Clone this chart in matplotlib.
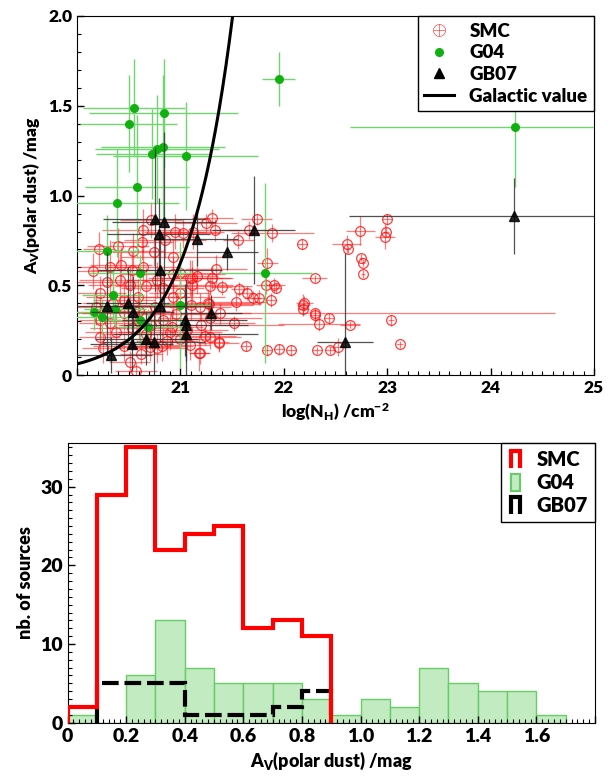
import numpy as np
import matplotlib
matplotlib.use("Agg")
import matplotlib.pyplot as plt
import matplotlib.patches as mpatches
from matplotlib.lines import Line2D
from matplotlib.legend_handler import HandlerPatch
from matplotlib.ticker import MultipleLocator, FuncFormatter

BOLD = 'heavy'
plt.rcParams['font.family'] = 'Lato'
plt.rcParams['font.weight'] = BOLD
plt.rcParams['axes.labelweight'] = BOLD
plt.rcParams['mathtext.fontset'] = 'custom'
plt.rcParams['mathtext.rm'] = 'Lato:heavy'
plt.rcParams['mathtext.it'] = 'Lato:heavy'
plt.rcParams['mathtext.bf'] = 'Lato:heavy'

# --- SMC fits: log(NH), Av, errors ---
smc_lognh = [23.00, 22.74, 22.99, 22.98, 22.61, 22.62, 22.75, 22.77, 22.77, 22.18,
             22.30, 22.20, 22.19, 22.30, 22.44, 22.34, 22.64, 23.04, 22.32, 22.45,
             22.52, 23.12, 22.30,
             21.31, 21.25, 21.33, 21.56, 21.74, 21.89, 21.84, 21.34, 21.31, 21.29,
             21.40, 21.57, 21.64, 21.70, 21.76, 21.91, 21.92, 21.88, 21.54, 21.28,
             21.10, 22.19, 21.52, 21.29, 21.20, 21.29, 21.37, 21.19, 21.63, 21.84,
             21.95, 22.07, 21.09,
             20.21, 20.54, 20.64, 20.72, 21.03, 21.12, 20.93, 20.63, 20.74, 20.32,
             20.43, 20.53, 20.64, 20.93, 21.00, 21.11, 21.11, 21.16, 20.29, 20.42,
             20.51, 20.59, 20.67, 20.77, 20.83, 20.93, 21.00, 20.22, 20.35, 20.45,
             20.22, 20.32, 20.22, 20.38, 20.53, 20.60, 20.67, 20.72, 20.83, 20.90,
             20.92, 20.77, 20.71, 20.82, 20.51, 20.57, 20.87, 21.06, 21.09, 21.18,
             21.37, 21.19, 21.27, 21.38, 21.66, 21.83,
             20.40, 20.85, 20.95, 20.45, 20.60, 20.75, 20.96, 21.00, 20.25, 20.45,
             20.62, 21.24, 20.15, 20.18]
smc_av = [0.867, 0.804, 0.800, 0.770, 0.730, 0.700, 0.655, 0.626, 0.563, 0.730,
          0.540, 0.400, 0.366, 0.334, 0.316, 0.284, 0.282, 0.306, 0.139, 0.139,
          0.158, 0.173, 0.344,
          0.873, 0.845, 0.808, 0.752, 0.867, 0.789, 0.626, 0.590, 0.540, 0.496,
          0.489, 0.479, 0.459, 0.431, 0.432, 0.501, 0.485, 0.418, 0.405, 0.394,
          0.390, 0.390, 0.288, 0.316, 0.282, 0.213, 0.180, 0.124, 0.162, 0.139,
          0.145, 0.139, 0.540,
          0.700, 0.690, 0.808, 0.864, 0.789, 0.800, 0.660, 0.743, 0.687, 0.600,
          0.613, 0.585, 0.603, 0.566, 0.570, 0.539, 0.500, 0.550, 0.520, 0.530,
          0.500, 0.436, 0.496, 0.530, 0.483, 0.436, 0.460, 0.455, 0.400, 0.344,
          0.306, 0.288, 0.213, 0.241, 0.260, 0.300, 0.232, 0.280, 0.306, 0.241,
          0.270, 0.149, 0.158, 0.160, 0.074, 0.024, 0.190, 0.250, 0.167, 0.126,
          0.186, 0.380, 0.400, 0.344, 0.808, 0.500,
          0.720, 0.750, 0.800, 0.420, 0.360, 0.380, 0.340, 0.200, 0.150, 0.160,
          0.120, 0.220, 0.580, 0.380]
smc_xerr = [0.05, 0.14, 0.03, 0.10, 0.14, 0.02, 0.02, 0.02, 0.02, 0.05,
            0.12, 0.08, 0.05, 0.05, 0.05, 0.40, 0.10, 0.03, 0.05, 0.05,
            0.08, 0.03, 2.32,
            0.20, 0.30, 0.25, 0.15, 0.15, 0.40, 0.10, 0.30, 0.20, 0.40,
            0.10, 0.08, 0.08, 0.08, 0.08, 0.10, 0.05, 0.05, 0.30, 0.50,
            0.60, 0.06, 0.20, 0.50, 0.80, 0.30, 0.20, 0.10, 0.05, 0.05,
            0.05, 0.05, 0.40,
            0.15, 0.30, 0.40, 0.30, 0.35, 0.30, 0.50, 0.30, 0.40, 0.30,
            0.30, 0.40, 0.35, 0.50, 0.30, 0.30, 0.40, 0.20, 0.30, 0.40,
            0.40, 0.50, 0.30, 0.30, 0.40, 0.50, 0.30, 0.25, 0.30, 0.40,
            0.20, 0.30, 0.20, 0.30, 0.40, 0.30, 0.40, 0.30, 0.60, 0.50,
            0.30, 0.30, 0.30, 0.30, 0.20, 0.20, 0.30, 0.40, 0.20, 0.10,
            0.10, 0.30, 0.40, 0.30, 0.20, 0.10,
            0.30, 0.40, 0.30, 0.30, 0.30, 0.40, 0.40, 0.30, 0.20, 0.30,
            0.20, 0.30, 0.20, 0.20]
smc_yerr = [0.03, 0.08, 0.03, 0.07, 0.05, 0.02, 0.02, 0.02, 0.02, 0.03,
            0.02, 0.04, 0.03, 0.03, 0.03, 0.04, 0.02, 0.03, 0.02, 0.02,
            0.05, 0.02, 0.03,
            0.05, 0.05, 0.06, 0.05, 0.03, 0.05, 0.08, 0.08, 0.06, 0.05,
            0.04, 0.04, 0.04, 0.04, 0.04, 0.04, 0.03, 0.04, 0.05, 0.06,
            0.08, 0.06, 0.04, 0.06, 0.07, 0.07, 0.05, 0.06, 0.03, 0.03,
            0.03, 0.03, 0.10,
            0.10, 0.10, 0.12, 0.10, 0.08, 0.10, 0.10, 0.10, 0.08, 0.15,
            0.10, 0.10, 0.10, 0.10, 0.08, 0.10, 0.10, 0.10, 0.10, 0.15,
            0.10, 0.10, 0.10, 0.10, 0.10, 0.10, 0.10, 0.10, 0.10, 0.10,
            0.10, 0.10, 0.08, 0.10, 0.10, 0.10, 0.10, 0.10, 0.10, 0.10,
            0.10, 0.08, 0.08, 0.08, 0.06, 0.05, 0.08, 0.10, 0.08, 0.10,
            0.05, 0.08, 0.08, 0.06, 0.05, 0.05,
            0.10, 0.10, 0.10, 0.10, 0.10, 0.10, 0.10, 0.08, 0.08, 0.08,
            0.06, 0.05, 0.10, 0.10]

# --- G04 fits ---
g04_lognh = [20.58, 20.39, 20.29, 20.16, 20.24, 20.35, 20.37, 20.61, 20.69, 21.00,
             21.82, 20.61, 20.50, 20.55, 20.84, 20.73, 20.77, 20.83, 21.05, 21.95,
             24.24]
g04_av = [1.05, 0.96, 0.69, 0.35, 0.325, 0.445, 0.37, 0.31, 0.27, 0.39,
          0.57, 0.57, 1.40, 1.49, 1.46, 1.23, 1.26, 1.27, 1.22, 1.65,
          1.38]
g04_xerr = [0.50, 0.60, 0.30, 0.30, 0.30, 0.30, 0.30, 0.40, 0.30, 0.30,
            0.45, 0.50, 0.47, 0.49, 0.72, 0.55, 0.60, 0.60, 0.70, 0.16,
            1.60]
g04_yerr = [0.40, 0.30, 0.20, 0.10, 0.10, 0.15, 0.10, 0.15, 0.10, 0.35,
            0.50, 0.10, 0.27, 0.27, 0.30, 0.25, 0.30, 0.40, 0.30, 0.15,
            0.33]

# --- GB07 fits ---
gb07_lognh = [20.75, 20.84, 20.79, 21.16, 21.45, 21.71, 20.80, 20.29, 20.49, 20.54,
              20.80, 21.30, 21.04, 21.05, 21.05, 20.67, 20.74, 20.53, 20.33, 22.59,
              24.23]
gb07_av = [0.867, 0.854, 0.785, 0.760, 0.687, 0.810, 0.585, 0.384, 0.403, 0.353,
           0.384, 0.349, 0.306, 0.279, 0.232, 0.204, 0.186, 0.176, 0.111, 0.182,
           0.886]
gb07_xerr = [0.50, 0.50, 0.50, 0.40, 0.30, 0.40, 0.60, 0.30, 0.40, 0.40,
             0.50, 0.30, 0.60, 0.60, 0.70, 0.50, 0.50, 0.40, 0.40, 0.27,
             1.60]
gb07_yerr = [0.40, 0.50, 0.20, 0.15, 0.10, 0.30, 0.20, 0.30, 0.20, 0.20,
             0.20, 0.10, 0.20, 0.20, 0.30, 0.15, 0.20, 0.15, 0.10, 0.50,
             0.21]

# NH / Av for the Galactic dust-to-gas ratio
galactic_ratio = 1.6e21

# --- histograms of Av(polar dust), bins of 0.1 mag ---
smc_edges = [0.0, 0.1, 0.2, 0.3, 0.4, 0.5, 0.6, 0.7, 0.8, 0.9]
smc_counts = [2, 29, 35, 22, 24, 25, 12, 13, 11]
g04_edges = [0.0, 0.1, 0.2, 0.3, 0.4, 0.5, 0.6, 0.7, 0.8, 0.9,
             1.0, 1.1, 1.2, 1.3, 1.4, 1.5, 1.6, 1.7]
g04_counts = [1, 0, 6, 13, 7, 5, 5, 5, 3, 1, 3, 2, 7, 5, 4, 4, 1]
gb07_edges = [0.1, 0.2, 0.3, 0.4, 0.5, 0.6, 0.7, 0.8, 0.9]
gb07_counts = [5, 5, 5, 1, 1, 1, 2, 4]

red = '#ff1010'
green = '#11b011'


def fmt_one_decimal(v, pos):
    return '0' if abs(v) < 1e-9 else '%.1f' % v


def step_handle(legend, orig_handle, xdescent, ydescent, width, height, fontsize):
    # narrow open-bottom box, like a histogram step
    x0 = -xdescent + width * 0.12
    x1 = -xdescent + width * 0.62
    y0 = -ydescent - height * 0.15
    y1 = -ydescent + height * 1.05
    return mpatches.Polygon([[x0, y0], [x0, y1], [x1, y1], [x1, y0]],
                            closed=orig_handle.get_fill())


def bold_ticks(ax):
    for lbl in ax.get_xticklabels() + ax.get_yticklabels():
        lbl.set_fontweight(BOLD)


def centers_of(edges):
    e = np.asarray(edges)
    return (e[:-1] + e[1:]) / 2


fig = plt.figure(figsize=(6.14, 7.80), dpi=100)
ax1 = fig.add_axes([0.1254, 0.519, 0.842, 0.4605])
ax2 = fig.add_axes([0.110, 0.0735, 0.859, 0.359])

# top: Av vs NH
ax1.errorbar(smc_lognh, smc_av, xerr=smc_xerr, yerr=smc_yerr, fmt='none',
             ecolor=red, elinewidth=0.9, alpha=0.55, zorder=2)
ax1.plot(smc_lognh, smc_av, 'o', ms=7, mfc='none', mec=red, mew=0.9,
         alpha=0.8, zorder=2)
ax1.errorbar(g04_lognh, g04_av, xerr=g04_xerr, yerr=g04_yerr, fmt='o', ms=5.5,
             color=green, ecolor='#6fd66f', elinewidth=1.0, zorder=3)
ax1.errorbar(gb07_lognh, gb07_av, xerr=gb07_xerr, yerr=gb07_yerr, fmt='^', ms=6.5,
             color='black', ecolor='#333333', elinewidth=0.9, alpha=0.85, zorder=4)
nh_grid = np.linspace(20.0, 21.6, 200)
ax1.plot(nh_grid, 10 ** nh_grid / galactic_ratio, color='black', lw=2.2, zorder=5)

ax1.set_xlim(20.0, 25.0)
ax1.set_ylim(0, 2.0)
ax1.xaxis.set_major_locator(MultipleLocator(1))
ax1.xaxis.set_minor_locator(MultipleLocator(0.1))
ax1.yaxis.set_major_locator(MultipleLocator(0.5))
ax1.yaxis.set_minor_locator(MultipleLocator(0.1))
ax1.xaxis.set_major_formatter(FuncFormatter(lambda v, p: '%d' % round(v) if v > 20.5 else ''))
ax1.yaxis.set_major_formatter(FuncFormatter(fmt_one_decimal))
ax1.tick_params(which='both', direction='in', labelsize=12.5)
ax1.tick_params(which='major', length=5, width=1)
ax1.tick_params(which='minor', length=3, width=0.8)
ax1.set_xlabel(r'log(N$_\mathrm{H}$) /cm$^{-2}$', fontsize=12.5, fontweight=BOLD)
ax1.set_ylabel(r'A$_\mathrm{V}$(polar dust) /mag', fontsize=12.5, fontweight=BOLD)
bold_ticks(ax1)

top_handles = [
    Line2D([], [], ls='none', marker='$\\oplus$', ms=9, color=red, mew=0),
    Line2D([], [], ls='none', marker='o', ms=5.5, color=green),
    Line2D([], [], ls='none', marker='^', ms=6.5, color='black'),
    Line2D([], [], color='black', lw=2.2),
]
leg1 = ax1.legend(top_handles, ['SMC', 'G04', 'GB07', 'Galactic value'],
                  loc='upper right', prop={'family': 'Lato', 'size': 13.5, 'weight': BOLD},
                  fancybox=False, edgecolor='black', framealpha=1,
                  borderaxespad=0, handlelength=1.6, labelspacing=0.25,
                  borderpad=0.35)
leg1.get_frame().set_linewidth(1.0)

# bottom: histograms
ax2.hist(centers_of(g04_edges), bins=g04_edges, weights=g04_counts, histtype='bar',
         rwidth=1.0, facecolor='#c2ebc2', edgecolor='#66cc66', linewidth=1.0,
         zorder=1)
ax2.hist(centers_of(smc_edges), bins=smc_edges, weights=smc_counts, histtype='step',
         color='#ff0000', linewidth=3, zorder=3)
ax2.hist(centers_of(gb07_edges), bins=gb07_edges, weights=gb07_counts, histtype='step',
         color='black', linewidth=3, linestyle=(0, (4, 1.4)), zorder=2)

ax2.set_xlim(0, 1.8)
ax2.set_ylim(0, 35.6)
ax2.xaxis.set_major_locator(MultipleLocator(0.2))
ax2.xaxis.set_minor_locator(MultipleLocator(0.02))
ax2.yaxis.set_major_locator(MultipleLocator(10))
ax2.yaxis.set_minor_locator(MultipleLocator(1))
ax2.xaxis.set_major_formatter(FuncFormatter(lambda v, p: fmt_one_decimal(v, p) if v < 1.7 else ''))
ax2.yaxis.set_major_formatter(FuncFormatter(lambda v, p: '%d' % round(v)))
ax2.tick_params(which='both', direction='in', labelsize=14)
ax2.tick_params(which='major', length=5, width=1)
ax2.tick_params(which='minor', length=3, width=0.8)
ax2.set_xlabel(r'A$_\mathrm{V}$(polar dust) /mag', fontsize=13, fontweight=BOLD)
ax2.set_ylabel('nb. of sources', fontsize=13, fontweight=BOLD)
bold_ticks(ax2)

hist_handles = [
    mpatches.Polygon([[0, 0]], closed=False, fill=False, edgecolor='#ff0000', lw=3),
    mpatches.Polygon([[0, 0]], closed=True, facecolor='#c2ebc2', edgecolor='#66cc66', lw=1.5),
    mpatches.Polygon([[0, 0]], closed=False, fill=False, edgecolor='black', lw=3),
]
leg2 = ax2.legend(hist_handles, ['SMC', 'G04', 'GB07'],
                  loc='upper right', prop={'family': 'Lato', 'size': 14.5, 'weight': BOLD},
                  fancybox=False, edgecolor='black', framealpha=1,
                  borderaxespad=0, handlelength=0.9, handletextpad=0.5,
                  labelspacing=0.2, borderpad=0.35,
                  handler_map={mpatches.Polygon: HandlerPatch(patch_func=step_handle)})
leg2.get_frame().set_linewidth(1.0)

fig.savefig('out.png', dpi=100)
